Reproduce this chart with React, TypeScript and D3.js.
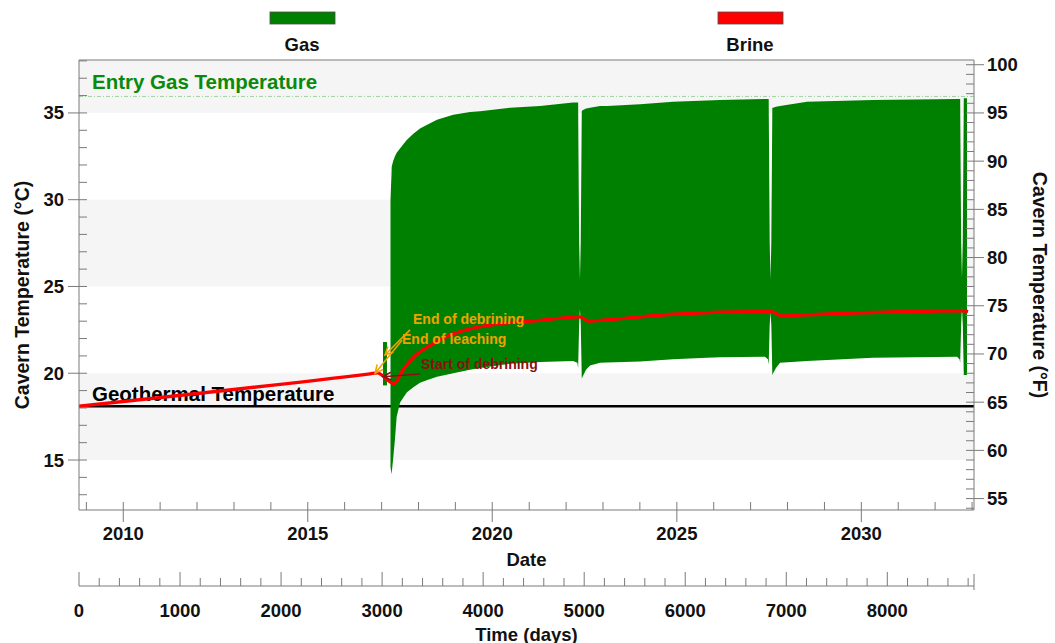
import React from "react";
import * as d3 from "d3";

// ---------- data ----------
const DAY_MAX = 8858;
const START_DATE = new Date(2008, 9, 20);

const leftTicks = [15, 20, 25, 30, 35];
const rightTicks = [55, 60, 65, 70, 75, 80, 85, 90, 95, 100];
const yearLabels = [2010, 2015, 2020, 2025, 2030];
const dayLabels = [0, 1000, 2000, 3000, 4000, 5000, 6000, 7000, 8000];

const ENTRY_GAS_TEMP = 35.95;
const GEOTHERMAL_TEMP = 18.1;

// brine temperature (day, °C)
const brineDays = [0, 2880, 2950, 3120, 3207, 3325, 3474, 3672, 3870, 4167, 4563, 4949, 4998, 5038, 5157, 5879, 6839, 6898, 6958, 7136, 7858, 8749, 8799];
const brineTemp = [18.1, 19.97, 20.02, 19.4, 20.2, 21.0, 21.6, 22.2, 22.55, 22.85, 23.05, 23.25, 23.15, 23.0, 23.05, 23.4, 23.57, 23.45, 23.3, 23.35, 23.5, 23.6, 23.55];

// gas temperature envelope: early spike (day, max °C, min °C)
const gasSpikeDays = [3009, 3048];
const gasSpikeMax = [21.8, 21.8];
const gasSpikeMin = [19.3, 19.3];

// gas temperature envelope: cycling period (day, max °C, min °C), with shut-in gaps
const gasDays = [3083, 3093, 3095, 3108, 3127, 3144, 3177, 3210, 3246, 3309, 3375, 3441, 3543, 3704, 3870, 3969, 4266, 4563, 4889, 4932, 4940,
  4950, 4958, 4966,
  4976, 4984, 5018, 5058, 5157, 5226, 5552, 5879, 6215, 6344, 6789, 6818, 6826,
  6836, 6844, 6852,
  6862, 6870, 6898, 6938, 7205, 7858, 8690, 8715, 8721,
  8731, 8739, 8747,
  8757, 8789];
const gasMax = [30.0, 31.5, 31.9, 32.2, 32.5, 32.7, 32.95, 33.2, 33.45, 33.8, 34.1, 34.3, 34.6, 34.9, 35.05, 35.1, 35.3, 35.4, 35.6, 35.6, 35.6,
  27.5, 25.4, 27.5,
  35.1, 35.15, 35.25, 35.3, 35.4, 35.4, 35.5, 35.65, 35.72, 35.75, 35.8, 35.8, 35.8,
  27.5, 25.4, 27.5,
  35.3, 35.3, 35.35, 35.4, 35.65, 35.75, 35.8, 35.8, 35.8,
  27.5, 25.5, 27.5,
  35.85, 35.85];
const gasMin = [14.6, 14.2, 14.25, 15.0, 16.2, 17.5, 18.3, 18.6, 18.9, 19.2, 19.45, 19.6, 19.8, 20.0, 20.2, 20.3, 20.55, 20.65, 20.7, 20.6, 20.3,
  22.8, 23.7, 22.8,
  19.7, 19.8, 20.2, 20.45, 20.6, 20.62, 20.67, 20.8, 20.9, 20.92, 20.95, 20.8, 20.5,
  22.8, 23.5, 22.8,
  19.9, 20.0, 20.3, 20.6, 20.7, 20.9, 20.95, 20.8, 20.6,
  22.8, 23.8, 22.8,
  19.9, 19.9];

const ORANGE = "#f2a100";
const DARKRED = "#8a1010";
const annotations = [
  { text: "End of debrining", color: ORANGE, tx: 3306, ty: 23.1, x1: 3276, y1: 22.5, x2: 3028, y2: 21.05 },
  { text: "End of leaching", color: ORANGE, tx: 3197, ty: 21.95, x1: 3197, y1: 21.9, x2: 2930, y2: 20.0 },
  { text: "Start of debrining", color: DARKRED, tx: 3385, ty: 20.55, x1: 3375, y1: 19.95, x2: 3009, y2: 19.8 },
];

// ---------- layout ----------
const W = 1055, H = 643;
const X0 = 79, X1 = 974, Y0 = 60, Y1 = 510;
const TIME_AXIS_Y = 586;
const FONT = "'Liberation Sans', Arial, Helvetica, sans-serif";
const AXIS_COLOR = "#7a7a7a";
const BAND = "#f5f5f5";

const c2f = (c: number) => c * 9 / 5 + 32;

export default function App() {
  const x = d3.scaleLinear().domain([0, DAY_MAX]).range([X0, X1]);
  const endDate = new Date(START_DATE.getTime() + DAY_MAX * 86400000);
  const xDate = d3.scaleTime().domain([START_DATE, endDate]).range([X0, X1]);
  const yDom: [number, number] = [12.12, 38.05];
  const y = d3.scaleLinear().domain(yDom).range([Y1, Y0]);
  const yF = d3.scaleLinear().domain([c2f(yDom[0]), c2f(yDom[1])]).range([Y1, Y0]);

  const area = d3.area<number>()
    .x((i) => x(gasDays[i]))
    .y0((i) => y(gasMin[i]))
    .y1((i) => y(gasMax[i]));
  const spikeArea = d3.area<number>()
    .x((i) => x(gasSpikeDays[i]))
    .y0((i) => y(gasSpikeMin[i]))
    .y1((i) => y(gasSpikeMax[i]));
  const brineLine = d3.line<number>()
    .x((i) => x(brineDays[i]))
    .y((i) => y(brineTemp[i]))
    .curve(d3.curveMonotoneX);

  const bands: [number, number][] = [[35, yDom[1]], [25, 30], [15, 20]];

  const leftMinor = d3.range(13, 39).filter((v) => v % 5 !== 0);
  const rightMinor = d3.range(54, 101).filter((v) => v % 5 !== 0).filter((v) => yF(v) >= Y0 && yF(v) <= Y1);
  const years = d3.timeYear.range(new Date(2009, 0, 1), new Date(2033, 0, 2));
  const dayMinor = d3.range(0, DAY_MAX, 200).filter((d) => d % 1000 !== 0);

  const arrowPath = (x1: number, y1: number, x2: number, y2: number) => {
    const ang = Math.atan2(y1 - y2, x1 - x2);
    const L = 9, a = 0.45;
    const p1 = [x2 + L * Math.cos(ang + a), y2 + L * Math.sin(ang + a)];
    const p2 = [x2 + L * Math.cos(ang - a), y2 + L * Math.sin(ang - a)];
    return `M${x1},${y1}L${x2},${y2}M${p1[0]},${p1[1]}L${x2},${y2}L${p2[0]},${p2[1]}`;
  };

  const tickText = { fontFamily: FONT, fontWeight: 700, fontSize: 18.5, fill: "#111" } as const;

  return (
    <svg width={W} height={H} style={{ position: "absolute", left: 0, top: 0, background: "#fff" }}>
      {/* legend */}
      <rect x={270} y={12} width={65} height={12} fill="#008000" stroke="#4a4a4a" strokeWidth={0.8} />
      <text x={302} y={44} textAnchor="middle" dominantBaseline="central" style={tickText}>Gas</text>
      <rect x={718} y={12} width={65} height={12} fill="#ff0000" stroke="#4a4a4a" strokeWidth={0.8} />
      <text x={750} y={44} textAnchor="middle" dominantBaseline="central" style={tickText}>Brine</text>

      {/* background bands */}
      {bands.map(([a, b], i) => (
        <rect key={i} x={X0} y={y(b)} width={X1 - X0} height={y(a) - y(b)} fill={BAND} />
      ))}

      {/* entry gas temperature */}
      <line x1={X0} x2={X1} y1={y(ENTRY_GAS_TEMP)} y2={y(ENTRY_GAS_TEMP)} stroke="#9fd39f" strokeWidth={1} strokeDasharray="4,2,1,2" />
      <text x={92} y={y(ENTRY_GAS_TEMP) - 15} dominantBaseline="central" style={{ fontFamily: FONT, fontWeight: 700, fontSize: 20.5, fill: "#0a8a0a" }}>Entry Gas Temperature</text>

      {/* geothermal */}
      <line x1={X0} x2={X1} y1={y(GEOTHERMAL_TEMP)} y2={y(GEOTHERMAL_TEMP)} stroke="#000" strokeWidth={2.5} />

      {/* gas */}
      <path d={spikeArea(d3.range(gasSpikeDays.length)) || ""} fill="#008000" />
      <path d={area(d3.range(gasDays.length)) || ""} fill="#008000" />

      <text x={92} y={y(GEOTHERMAL_TEMP) - 13} dominantBaseline="central" style={{ fontFamily: FONT, fontWeight: 700, fontSize: 20.5, fill: "#000" }}>Geothermal Temperature</text>

      {/* brine */}
      <path d={brineLine(d3.range(brineDays.length)) || ""} fill="none" stroke="#ff0000" strokeWidth={3.3} strokeLinejoin="round" />

      {/* annotations */}
      {annotations.map((a, i) => (
        <g key={i}>
          <path d={arrowPath(x(a.x1), y(a.y1), x(a.x2), y(a.y2))} stroke={a.color} strokeWidth={1.5} fill="none" />
          <text x={x(a.tx)} y={y(a.ty)} dominantBaseline="central" style={{ fontFamily: FONT, fontWeight: 700, fontSize: 14, fill: a.color }}>{a.text}</text>
        </g>
      ))}

      {/* frame */}
      <line x1={X0} x2={X1} y1={Y0} y2={Y0} stroke={AXIS_COLOR} strokeWidth={1} />
      <line x1={X0} x2={X0} y1={Y0} y2={Y1} stroke={AXIS_COLOR} strokeWidth={1} />
      <line x1={X1} x2={X1} y1={Y0} y2={Y1} stroke={AXIS_COLOR} strokeWidth={1} />
      <line x1={X0} x2={X1} y1={Y1} y2={Y1} stroke={AXIS_COLOR} strokeWidth={1} />

      {/* left axis */}
      {leftMinor.map((v) => (
        <line key={"lm" + v} x1={X0} x2={X0 + 8} y1={y(v)} y2={y(v)} stroke={AXIS_COLOR} />
      ))}
      {leftTicks.map((v) => (
        <g key={"lt" + v}>
          <line x1={X0 - 11} x2={X0 + 8} y1={y(v)} y2={y(v)} stroke={AXIS_COLOR} />
          <text x={X0 - 15} y={y(v)} textAnchor="end" dominantBaseline="central" style={tickText}>{v}</text>
        </g>
      ))}
      <text transform={`translate(22,${(Y0 + Y1) / 2 + 10}) rotate(-90)`} textAnchor="middle" dominantBaseline="central" style={{ ...tickText, fontSize: 19.5 }}>Cavern Temperature (°C)</text>

      {/* right axis */}
      {rightMinor.map((v) => (
        <line key={"rm" + v} x1={X1 - 8} x2={X1} y1={yF(v)} y2={yF(v)} stroke={AXIS_COLOR} />
      ))}
      {rightTicks.map((v) => (
        <g key={"rt" + v}>
          <line x1={X1 - 8} x2={X1 + 10} y1={yF(v)} y2={yF(v)} stroke={AXIS_COLOR} />
          <text x={X1 + 13} y={yF(v)} textAnchor="start" dominantBaseline="central" style={tickText}>{v}</text>
        </g>
      ))}
      <text transform={`translate(1040,${(Y0 + Y1) / 2}) rotate(90)`} textAnchor="middle" dominantBaseline="central" style={{ ...tickText, fontSize: 19.5 }}>Cavern Temperature (°F)</text>

      {/* date axis */}
      {years.map((d) => {
        const yr = d.getFullYear();
        const major = yr % 5 === 0;
        const xx = xDate(d);
        if (xx < X0 || xx > X1) return null;
        return <line key={"yr" + yr} x1={xx} x2={xx} y1={Y1 - 8} y2={major ? Y1 + 12 : Y1} stroke={AXIS_COLOR} />;
      })}
      {yearLabels.map((yr) => (
        <text key={"yl" + yr} x={xDate(new Date(yr, 0, 1))} y={533} textAnchor="middle" dominantBaseline="central" style={tickText}>{yr}</text>
      ))}
      <text x={(X0 + X1) / 2} y={559} textAnchor="middle" dominantBaseline="central" style={tickText}>Date</text>

      {/* time axis */}
      <line x1={X0} x2={X1} y1={TIME_AXIS_Y} y2={TIME_AXIS_Y} stroke={AXIS_COLOR} />
      {dayMinor.map((d) => (
        <line key={"dm" + d} x1={x(d)} x2={x(d)} y1={TIME_AXIS_Y - 8} y2={TIME_AXIS_Y} stroke={AXIS_COLOR} />
      ))}
      {dayLabels.map((d) => (
        <g key={"dl" + d}>
          <line x1={x(d)} x2={x(d)} y1={TIME_AXIS_Y - 14} y2={TIME_AXIS_Y} stroke={AXIS_COLOR} />
          <text x={x(d)} y={610} textAnchor="middle" dominantBaseline="central" style={tickText}>{d}</text>
        </g>
      ))}
      <line x1={X1} x2={X1} y1={TIME_AXIS_Y - 12} y2={TIME_AXIS_Y + 4} stroke={AXIS_COLOR} />
      <text x={(X0 + X1) / 2} y={634} textAnchor="middle" dominantBaseline="central" style={tickText}>Time (days)</text>
    </svg>
  );
}
